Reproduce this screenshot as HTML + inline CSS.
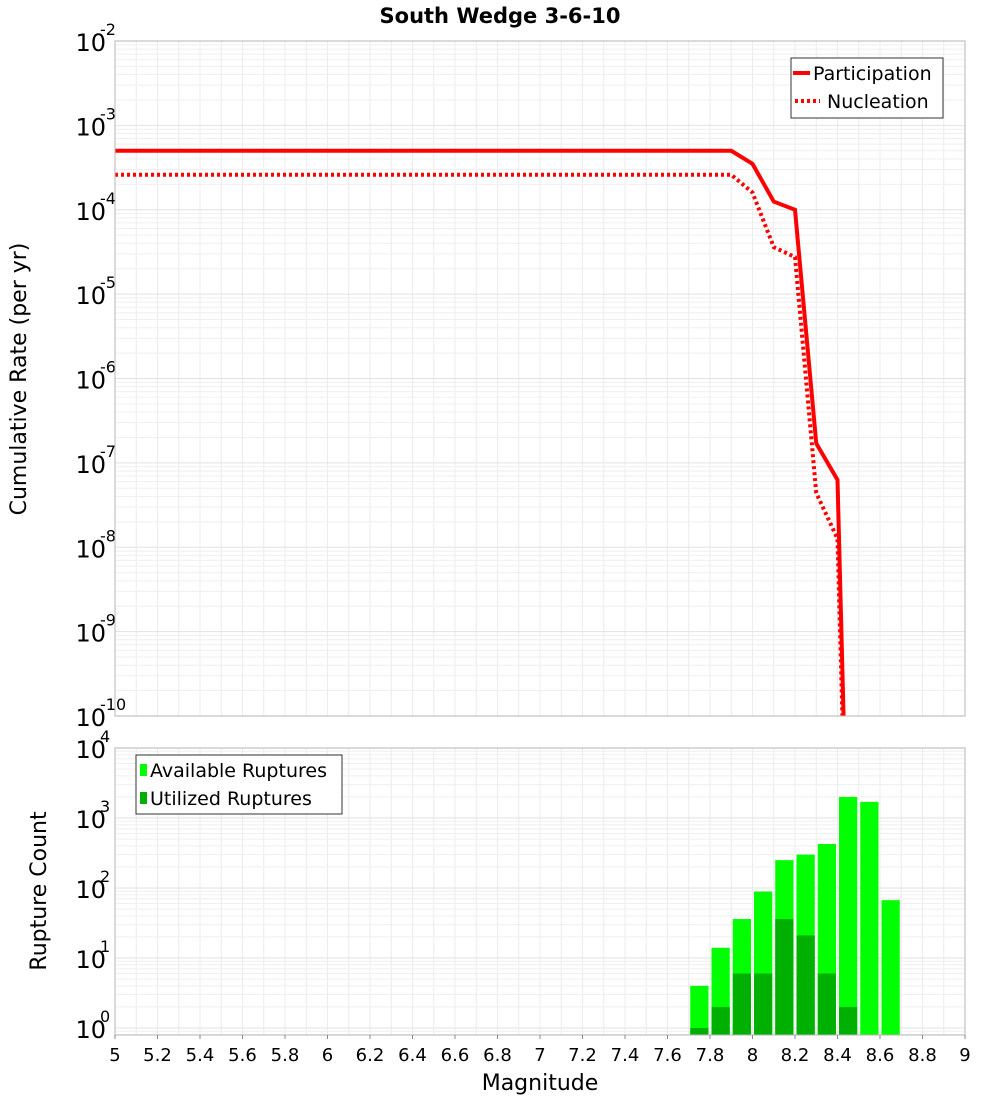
<!DOCTYPE html>
<html><head><meta charset="utf-8"><style>
body{margin:0;background:#fff;}
svg text{font-family:"DejaVu Sans","Liberation Sans",sans-serif;}
</style></head><body>
<svg id="c" width="1000" height="1100" xmlns="http://www.w3.org/2000/svg">
<text x="500" y="23" text-anchor="middle" font-size="21" font-weight="bold">South Wedge 3-6-10</text>
<text transform="translate(26,379) rotate(-90)" text-anchor="middle" font-size="22">Cumulative Rate (per yr)</text>
<text transform="translate(46,891) rotate(-90)" text-anchor="middle" font-size="22">Rupture Count</text>
<text x="540" y="1090" text-anchor="middle" font-size="22">Magnitude</text>
<g id="topPanel"></g><g id="botPanel"></g>
</svg>
<script>
const mags=[5.0,5.1,5.2,5.3,5.4,5.5,5.6,5.7,5.8,5.9,6.0,6.1,6.2,6.3,6.4,6.5,6.6,6.7,6.8,6.9,7.0,7.1,7.2,7.3,7.4,7.5,7.6,7.7,7.8,7.9,8.0,8.1,8.2,8.3,8.4,8.5];
const participation=[5e-4,5e-4,5e-4,5e-4,5e-4,5e-4,5e-4,5e-4,5e-4,5e-4,5e-4,5e-4,5e-4,5e-4,5e-4,5e-4,5e-4,5e-4,5e-4,5e-4,5e-4,5e-4,5e-4,5e-4,5e-4,5e-4,5e-4,5e-4,5e-4,5e-4,3.5e-4,1.25e-4,1.0e-4,1.7e-7,6.3e-8,1e-17];
const nucleation=[2.6e-4,2.6e-4,2.6e-4,2.6e-4,2.6e-4,2.6e-4,2.6e-4,2.6e-4,2.6e-4,2.6e-4,2.6e-4,2.6e-4,2.6e-4,2.6e-4,2.6e-4,2.6e-4,2.6e-4,2.6e-4,2.6e-4,2.6e-4,2.6e-4,2.6e-4,2.6e-4,2.6e-4,2.6e-4,2.6e-4,2.6e-4,2.6e-4,2.6e-4,2.6e-4,1.6e-4,3.6e-5,2.75e-5,4.4e-8,1.26e-8,1e-17];
const binStarts=[7.7,7.8,7.9,8.0,8.1,8.2,8.3,8.4,8.5,8.6];
const available=[4,14,36,89,250,300,425,2000,1700,67];
const utilized=[1,2,6,6,36,21,6,2,0,0];
const xTicks=[5,5.2,5.4,5.6,5.8,6,6.2,6.4,6.6,6.8,7,7.2,7.4,7.6,7.8,8,8.2,8.4,8.6,8.8,9];
const topExps=[-2,-3,-4,-5,-6,-7,-8,-9,-10];
const botExps=[0,1,2,3,4];

const NS="http://www.w3.org/2000/svg";
const L=115,R=965;
const X=m=>L+(m-5)/4*(R-L);
const T0=41,T1=716, yTop=v=>T0+(-2-Math.log10(v))*(T1-T0)/8;
const B0=748,BPD=70, yBot=v=>B0+(4-Math.log10(v))*BPD, B1=1035;
function el(p,t,a){const e=document.createElementNS(NS,t);for(const k in a)e.setAttribute(k,a[k]);p.appendChild(e);return e;}
const gTopPanel=document.getElementById('topPanel'),gBotPanel=document.getElementById('botPanel');

function grid(g,y0,y1,yf,exps){
  for(let m=5;m<=9.001;m+=0.1){const x=X(m);const l=el(g,'line',{x1:x,x2:x,y1:y0,y2:y1,stroke:'#ececec','stroke-width':1});
  
  }
  const lo=Math.min(...exps),hi=Math.max(...exps);
  for(let e=lo-1;e<=hi;e++)for(let k=1;k<10;k++){const y=yf(k*Math.pow(10,e));if(y<y0-0.5||y>y1+0.5)continue;
    const l=el(g,'line',{x1:L,x2:R,y1:y,y2:y,stroke:k==1?'#e2e2e2':'#efefef','stroke-width':1});
    
    }
}
function ylabels(g,yf,exps,name){
  exps.forEach(e=>{const y=yf(Math.pow(10,e));const t=el(g,'text',{x:106,y:y+10,'text-anchor':'end','font-size':24});
    
    
    t.textContent='10';
    const s=el(g,'text',{x:100,y:y-6,'font-size':16});
    
    
    s.textContent=String(e);});
}
grid(gTopPanel,T0,T1,yTop,topExps);
ylabels(gTopPanel,yTop,topExps,'top-y-tick-label');
const clip=el(gTopPanel,'clipPath',{id:'cp'});el(clip,'rect',{x:L,y:T0,width:R-L,height:T1-T0});
function line(vals,dash,name){const p=el(gTopPanel,'polyline',{points:mags.map((m,i)=>X(m)+','+yTop(vals[i])).join(' '),fill:'none',stroke:'#ff0000','stroke-width':4,'clip-path':'url(#cp)'});
  if(dash)p.setAttribute('stroke-dasharray',dash);
  
  }
line(participation,null,'participation-line');
line(nucleation,'3,3','nucleation-line');
const tf=el(gTopPanel,'rect',{x:L,y:T0,width:R-L,height:T1-T0,fill:'none',stroke:'#b5b5b5'});


const lg=el(gTopPanel,'g',{});


el(lg,'rect',{x:791,y:58,width:152,height:60,fill:'#fff',stroke:'#333'});
el(lg,'line',{x1:793,x2:810,y1:73,y2:73,stroke:'#f00','stroke-width':4});
el(lg,'line',{x1:795,x2:820,y1:101,y2:101,stroke:'#f00','stroke-width':4,'stroke-dasharray':'3,3'});
let t=el(lg,'text',{x:813,y:80,'font-size':19});t.textContent='Participation';


t=el(lg,'text',{x:827,y:108,'font-size':19});t.textContent='Nucleation';



grid(gBotPanel,B0,B1,yBot,botExps);
ylabels(gBotPanel,yBot,botExps,'bottom-y-tick-label');
binStarts.forEach((b,i)=>{const x0=X(b)+1.5,w=X(b+0.1)-X(b)-3;
  const r=el(gBotPanel,'rect',{x:x0,y:yBot(available[i]),width:w,height:B1-yBot(available[i]),fill:'#00ff00'});
  
  
  if(utilized[i]>0){const u=el(gBotPanel,'rect',{x:x0,y:yBot(utilized[i]),width:w,height:B1-yBot(utilized[i]),fill:'#00b000'});
  
  }
});
const bf=el(gBotPanel,'rect',{x:L,y:B0,width:R-L,height:B1-B0,fill:'none',stroke:'#b5b5b5'});


const lg2=el(gBotPanel,'g',{});


el(lg2,'rect',{x:136,y:755,width:206,height:59,fill:'#fff',stroke:'#333'});
el(lg2,'rect',{x:140,y:764,width:7,height:12,fill:'#00ff00'});
el(lg2,'rect',{x:140,y:792,width:7,height:12,fill:'#00b000'});
t=el(lg2,'text',{x:150,y:777,'font-size':19});t.textContent='Available Ruptures';


t=el(lg2,'text',{x:150,y:805,'font-size':19});t.textContent='Utilized Ruptures';


xTicks.forEach(m=>{const x=X(m);const tk=el(gBotPanel,'line',{x1:x,x2:x,y1:B1,y2:B1+4,stroke:'#888'});
  
  
  const tt=el(gBotPanel,'text',{x:x,y:1061,'text-anchor':'middle','font-size':18});
  
  
  tt.textContent=String(Math.round(m*10)/10);});
</script>
</body></html>
